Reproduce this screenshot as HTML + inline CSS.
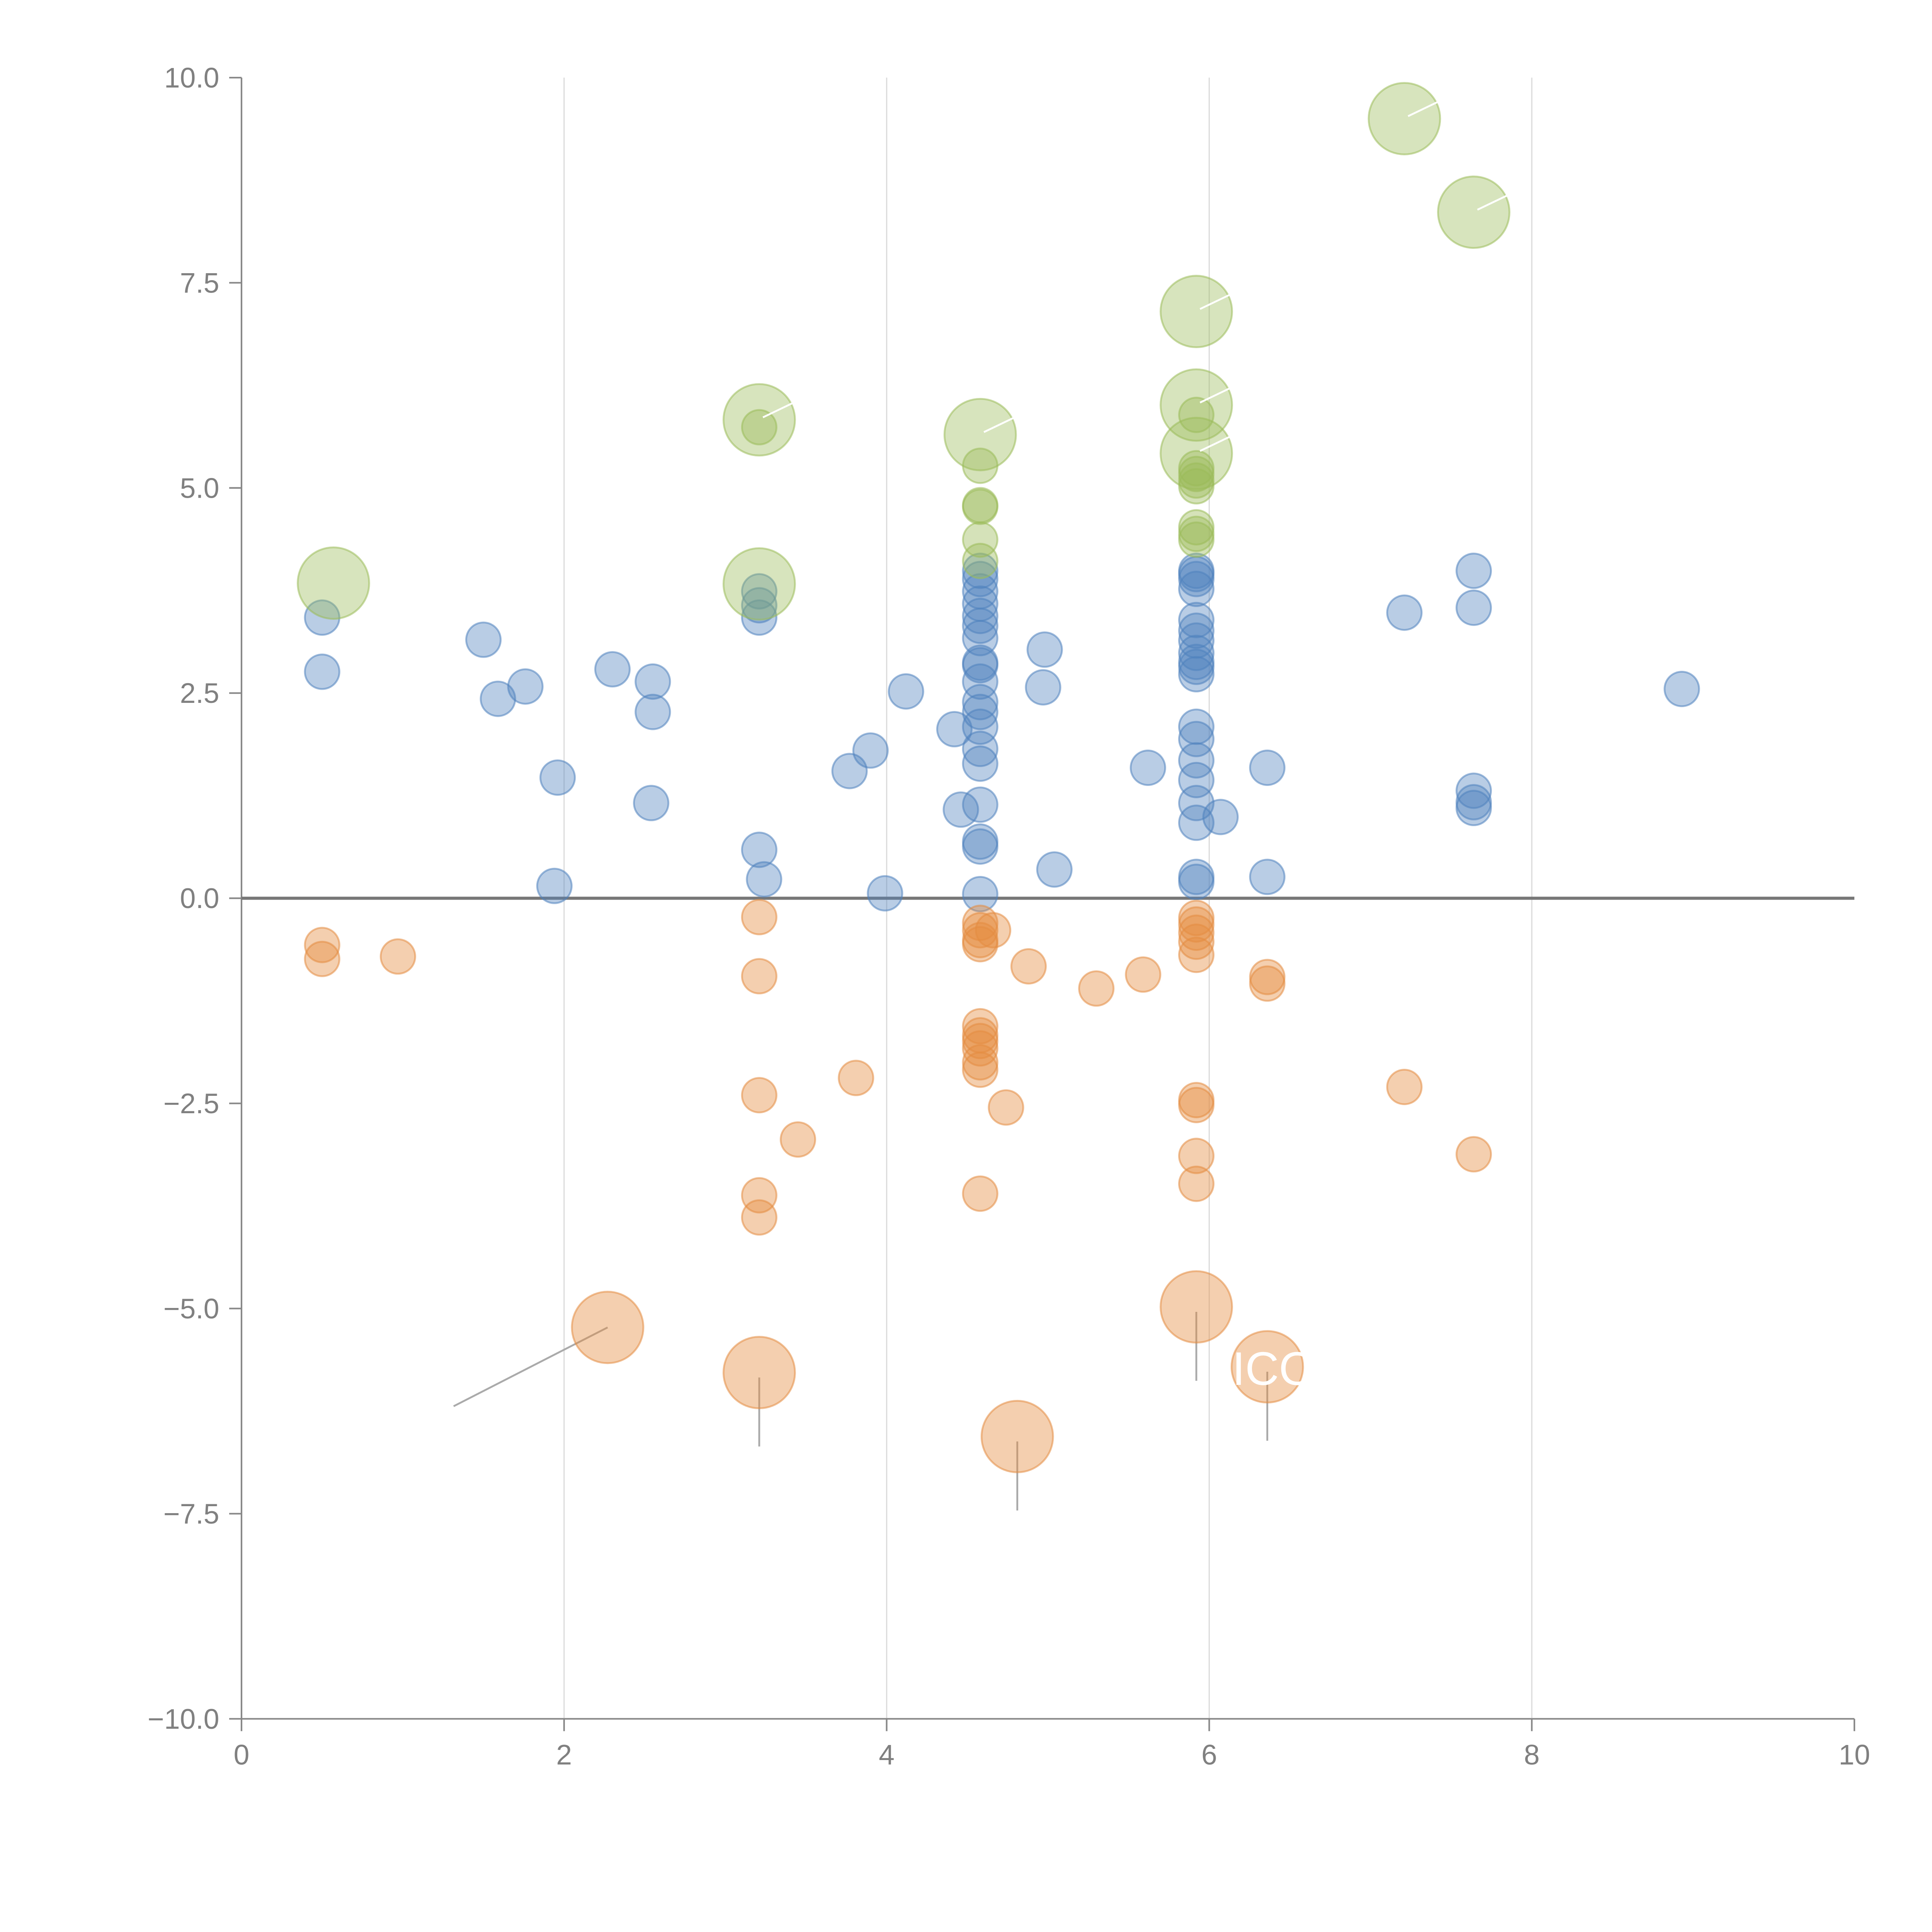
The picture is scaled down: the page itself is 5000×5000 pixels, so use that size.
<!DOCTYPE html>
<html><head><meta charset="utf-8"><style>
html,body{margin:0;padding:0;background:#fff;}
svg{display:block;}
text{font-family:"Liberation Sans",sans-serif;}
</style></head><body>
<svg id="chart" width="5000" height="5000" viewBox="0 0 1568 1568" xmlns="http://www.w3.org/2000/svg">
<g id="grid"></g>
<g id="axes"></g>
<g id="lines"></g>
<g id="marks"></g>
<text x="1000" y="1124" fill="#fff" font-size="38">ICO</text>
</svg>
<script>
const xTicks=[0,2,4,6,8,10];
const yTicks=[-10,-7.5,-5,-2.5,0,2.5,5,7.5,10];
const yTickLabels=["\u221210.0","\u22127.5","\u22125.0","\u22122.5","0.0","2.5","5.0","7.5","10.0"];
const blueX=[0.5,0.5,1.5,1.59,1.76,1.96,1.94,2.3,2.55,2.55,2.54,3.21,3.21,3.21,3.21,3.24,3.77,3.9,4.12,3.99,4.42,4.46,
4.58,4.58,4.58,4.58,4.58,4.58,4.58,4.58,4.58,4.58,4.58,4.58,4.58,4.58,4.58,4.58,4.58,4.58,4.58,
4.98,4.97,5.04,5.62,
5.92,5.92,5.92,5.92,5.92,5.92,5.92,5.92,5.92,5.92,5.92,5.92,5.92,5.92,5.92,5.92,5.92,5.92,5.92,
6.07,6.36,6.36,7.21,7.64,7.64,7.64,7.64,7.64,8.93];
const blueY=[3.42,2.76,3.15,2.43,2.58,1.47,0.15,2.79,2.64,2.27,1.16,3.74,3.57,3.42,0.59,0.23,1.55,1.8,2.52,0.06,2.06,1.08,
3.99,3.89,3.74,3.59,3.44,3.32,3.17,2.87,2.84,2.64,2.39,2.27,2.09,1.82,1.64,1.14,0.69,0.63,0.05,
3.03,2.57,0.35,1.59,
3.99,3.95,3.89,3.77,3.39,3.26,3.14,2.99,2.88,2.82,2.73,2.09,1.94,1.68,1.44,1.16,0.92,0.26,0.2,
0.99,1.59,0.26,3.48,3.99,3.54,1.31,1.17,1.1,2.55];
const orangeX=[0.5,0.5,0.97,3.21,3.21,3.21,3.45,3.21,3.21,3.81,
4.58,4.58,4.58,4.58,4.58,4.58,4.58,4.58,4.58,4.58,4.58,
4.66,4.88,4.74,5.3,5.59,5.92,5.92,5.92,5.92,5.92,5.92,5.92,5.92,5.92,6.36,6.36,7.21,7.64];
const orangeY=[-0.57,-0.74,-0.71,-0.23,-0.95,-2.4,-2.94,-3.62,-3.89,-2.19,
-0.3,-0.39,-0.51,-0.56,-1.56,-1.67,-1.74,-1.83,-2.0,-2.09,-3.6,
-0.39,-0.83,-2.55,-1.1,-0.93,-0.24,-0.32,-0.42,-0.53,-0.69,-2.46,-2.52,-3.14,-3.48,-0.96,-1.04,-2.3,-3.12];
const orangeBigX=[2.27,3.21,4.81,5.92,6.36];
const orangeBigY=[-5.23,-5.78,-6.56,-4.98,-5.71];
const greenX=[4.58,4.58,4.58,4.58,4.58,5.92,5.92,5.92,5.92,5.92,5.92,5.92,5.92,3.21];
const greenY=[5.27,4.79,4.77,4.37,4.11,5.89,5.24,5.17,5.09,5.02,4.52,4.44,4.37,5.74];
const greenBigX=[0.57,3.21,3.21,4.58,5.92,5.92,5.92,7.21,7.64];
const greenBigY=[3.84,5.83,3.83,5.65,7.15,6.01,5.42,9.5,8.36];

const NS="http://www.w3.org/2000/svg";
const X0=196,X1=1505,Y0=1395,Y1=63;
function sx(v){return X0+(v-0)/(10-0)*(X1-X0);}
function sy(v){return Y0-(v+10)/20*(Y0-Y1);}
function el(tag,attrs,parent){const e=document.createElementNS(NS,tag);for(const k in attrs)e.setAttribute(k,attrs[k]);parent.appendChild(e);return e;}
const grid=document.getElementById('grid'),axes=document.getElementById('axes'),lines=document.getElementById('lines'),marks=document.getElementById('marks');
xTicks.forEach(t=>{
  if(t>0&&t<10){const g=el('line',{x1:sx(t),x2:sx(t),y1:Y1,y2:Y0,stroke:'#dcdcdc','stroke-width':1},grid);
    
    }
  const tk=el('line',{x1:sx(t),x2:sx(t),y1:Y0,y2:Y0+10,stroke:'#888','stroke-width':1.3},axes);
  
  
  const tx=el('text',{x:sx(t),y:Y0+37,'text-anchor':'middle','font-size':23,fill:'#808080'},axes);
  tx.textContent=String(t);
  
  
});
yTicks.forEach((t,i)=>{
  const tk=el('line',{x1:X0-10,x2:X0,y1:sy(t),y2:sy(t),stroke:'#888','stroke-width':1.3},axes);
  
  
  const tx=el('text',{x:X0-18,y:sy(t)+8,'text-anchor':'end','font-size':23,fill:'#808080'},axes);
  tx.textContent=yTickLabels[i];
  
  
});
const ya=el('line',{x1:X0,x2:X0,y1:Y1,y2:Y0,stroke:'#888','stroke-width':1.3},axes);


const xa=el('line',{x1:X0,x2:X1,y1:Y0,y2:Y0,stroke:'#888','stroke-width':1.3},axes);


const zl=el('line',{x1:X0,x2:X1,y1:sy(0),y2:sy(0),stroke:'#777','stroke-width':2.5},axes);



function drawSeries(xs,ys,r,fill,stroke,name){
  xs.forEach((x,i)=>{
    const c=el('circle',{cx:sx(x),cy:sy(ys[i]),r:r,fill:fill,stroke:stroke,'stroke-width':1.5},marks);
    
    
  });
}
drawSeries(blueX,blueY,14,'rgba(79,129,189,0.4)','rgba(79,129,189,0.55)','blue-point');
drawSeries(orangeX,orangeY,14,'rgba(228,140,65,0.42)','rgba(228,140,65,0.55)','orange-point');
drawSeries(greenX,greenY,14,'rgba(155,187,89,0.42)','rgba(155,187,89,0.55)','green-point');
drawSeries(orangeBigX,orangeBigY,29,'rgba(228,140,65,0.42)','rgba(228,140,65,0.55)','orange-bubble');
drawSeries(greenBigX,greenBigY,29,'rgba(155,187,89,0.4)','rgba(155,187,89,0.55)','green-bubble');
orangeBigX.forEach((x,i)=>{
  const cx=sx(x),cy=sy(orangeBigY[i]);
  const ex=i===0?cx-125:cx, ey=i===0?cy+64:cy+60;
  const l=el('line',{x1:cx,y1:cy+(i===0?0:4),x2:ex,y2:ey,stroke:'#aaa','stroke-width':1.5},lines);
  
  
});
greenBigX.forEach((x,i)=>{
  if(i===0||i===2)return;
  const cx=sx(x),cy=sy(greenBigY[i]);
  const l=el('line',{x1:cx+3,y1:cy-2,x2:cx+28,y2:cy-14,stroke:'#fff','stroke-width':1.5},marks);
  
  
});
</script>
</body></html>
